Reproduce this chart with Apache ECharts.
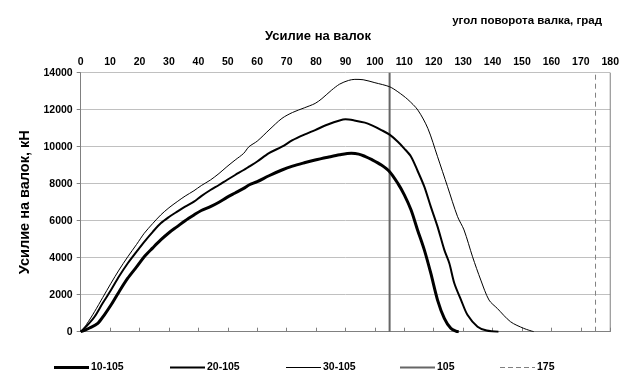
<!DOCTYPE html>
<html><head><meta charset="utf-8">
<script src="https://cdn.jsdelivr.net/npm/echarts@6/dist/echarts.min.js"></script>
<style>html,body{margin:0;padding:0;background:#fff}#c{width:622px;height:379px}</style>
</head><body><div id="c"></div>
<script>
const title = "Усилие на валок";
const xAxisName = "угол поворота валка, град";
const yAxisName = "Усилие на валок, кН";
const seriesNames = ["10-105", "20-105", "30-105", "105", "175"];

const s10_105 = [[0,0],[1,60],[3,200],[5.8,450],[8,900],[10.3,1440],[13,2150],[16,2890],[19,3500],[21.6,4050],[24.5,4530],[27.2,4960],[30,5350],[32.8,5680],[35.5,6000],[38.5,6310],[41,6550],[44.1,6760],[47,7000],[49.7,7260],[52.5,7500],[55.4,7750],[57.2,7930],[60,8110],[64,8430],[68.4,8740],[72,8950],[76,9130],[79.7,9280],[84,9430],[88,9560],[92,9640],[94.5,9600],[96.6,9480],[99,9300],[102.2,9010],[105,8650],[107.8,8020],[110,7400],[112.3,6580],[114.5,5500],[116.8,4420],[119,3160],[121.3,1710],[123.6,720],[125.8,180],[127.5,30],[128.5,0]];

const s20_105 = [[0,0],[2,300],[4.7,810],[7.5,1550],[10.3,2250],[13,2980],[16,3700],[19,4330],[21.6,4860],[24.5,5400],[27.2,5860],[30,6200],[32.8,6490],[35.5,6760],[38.5,7030],[41,7330],[44.1,7660],[47,7930],[49.7,8200],[52.5,8470],[55.4,8740],[57.2,8920],[60,9200],[64,9650],[68.4,10000],[72,10350],[76,10650],[79.7,10900],[84,11200],[88,11420],[90,11480],[93,11420],[96.6,11300],[99,11150],[102.2,10900],[105,10650],[107.8,10270],[110,9900],[112.3,9460],[114.5,8700],[116.8,7840],[119,6760],[121.3,5680],[123.6,4420],[125.3,3700],[127,2620],[129.3,1710],[131.5,900],[134.9,270],[138,60],[142,0]];

const s30_105 = [[0,0],[2,400],[4.7,1080],[7.5,1850],[10.3,2620],[13,3330],[16,4050],[19,4720],[21.6,5320],[24.5,5850],[27.2,6310],[30,6700],[32.8,7030],[35.5,7330],[38.5,7620],[41,7900],[44.1,8200],[47,8550],[49.7,8920],[52.5,9280],[55.4,9640],[57.2,10000],[60,10300],[64,10900],[68.4,11530],[72,11850],[76,12100],[79.7,12340],[82,12600],[85.3,13060],[88,13380],[91,13580],[93.2,13640],[96,13620],[100,13460],[105,13240],[107.8,12970],[111.2,12550],[114.6,11980],[118,10990],[121.3,9460],[124.7,7840],[128.1,6220],[130.3,5500],[133.2,4050],[136,2790],[138.8,1710],[141.6,1260],[146.1,540],[150.6,180],[154,0]];

const line105 = [[105,0],[105,14000]];
const line175 = [[175,0],[175,14000]];

const xTicks = {min:0, max:180, interval:10};
const yTicks = {min:0, max:14000, interval:2000};

const chart = echarts.init(document.getElementById('c'), null, {renderer:'canvas'});
const F = 'Liberation Sans, Arial, sans-serif';
const legendText = {fontFamily:F, fontSize:10.5, fontWeight:'bold', color:'#000', padding:[0,0,0,-3]};
const legendLefts = [54, 170, 286, 400, 500];
const legendIcons = [
  {icon:'rect', h:3},
  {icon:'rect', h:2},
  {icon:'rect', h:1},
  {icon:'rect', h:2},
  {icon:'path://M0,0h5v1h-5z M8,0h5v1h-5z M16,0h5v1h-5z M24,0h5v1h-5z M32,0h3v1h-3z', h:1}
];
const legends = seriesNames.map((n,i)=>({
  data:[n], left:legendLefts[i], top:362, padding:0, itemWidth:35, itemHeight:legendIcons[i].h,
  icon:legendIcons[i].icon, textStyle:legendText, selectedMode:false
}));

chart.setOption({
  animation:false,
  backgroundColor:'#fff',
  title:[
    {text:title, left:313, top:25, textAlign:'center', textStyle:{fontFamily:F, fontSize:13, fontWeight:'bold', color:'#000'}},
    {text:xAxisName, right:15, top:10, textStyle:{fontFamily:F, fontSize:11.5, fontWeight:'bold', color:'#000'}}
  ],
  grid:{left:80.7, right:8, top:72.7, bottom:47.3},
  legend:legends,
  xAxis:{
    type:'value', position:'top', min:xTicks.min, max:xTicks.max, interval:xTicks.interval,
    axisLine:{show:true, lineStyle:{color:'#808080', width:1}},
    axisTick:{show:true, inside:false, length:4, lineStyle:{color:'#808080'}},
    axisLabel:{fontFamily:F, fontSize:10.5, fontWeight:'bold', color:'#000', margin:5},
    splitLine:{show:false}
  },
  yAxis:{
    type:'value', min:yTicks.min, max:yTicks.max, interval:yTicks.interval,
    name:yAxisName, nameLocation:'middle', nameGap:47, nameRotate:90,
    nameTextStyle:{fontFamily:F, fontSize:14.5, fontWeight:'bold', color:'#000'},
    axisLine:{show:true, lineStyle:{color:'#808080', width:1}},
    axisTick:{show:true, length:4, lineStyle:{color:'#808080'}},
    axisLabel:{fontFamily:F, fontSize:10.5, fontWeight:'bold', color:'#000', margin:8, formatter:v=>String(v)},
    splitLine:{show:true, lineStyle:{color:'#c0c0c0', width:1}}
  },
  series:[
    {name:seriesNames[0], type:'line', data:s10_105, smooth:0.3, showSymbol:false, symbol:'none', lineStyle:{color:'#000', width:3}, itemStyle:{color:'#000'}, z:5},
    {name:seriesNames[1], type:'line', data:s20_105, smooth:0.3, showSymbol:false, symbol:'none', lineStyle:{color:'#000', width:2}, itemStyle:{color:'#000'}, z:5},
    {name:seriesNames[2], type:'line', data:s30_105, smooth:0.3, showSymbol:false, symbol:'none', lineStyle:{color:'#000', width:1}, itemStyle:{color:'#000'}, z:5},
    {name:seriesNames[3], type:'line', data:line105, showSymbol:false, symbol:'none', lineStyle:{color:'#666666', width:2}, itemStyle:{color:'#666666'}, z:4},
    {name:seriesNames[4], type:'line', data:line175, showSymbol:false, symbol:'none', lineStyle:{color:'#808080', width:1, type:[5,4]}, itemStyle:{color:'#808080'}, z:4},
    {type:'line', data:[[180,0],[180,14000]], showSymbol:false, symbol:'none', silent:true, lineStyle:{color:'#808080', width:1}, z:3}
  ]
});
</script></body></html>
